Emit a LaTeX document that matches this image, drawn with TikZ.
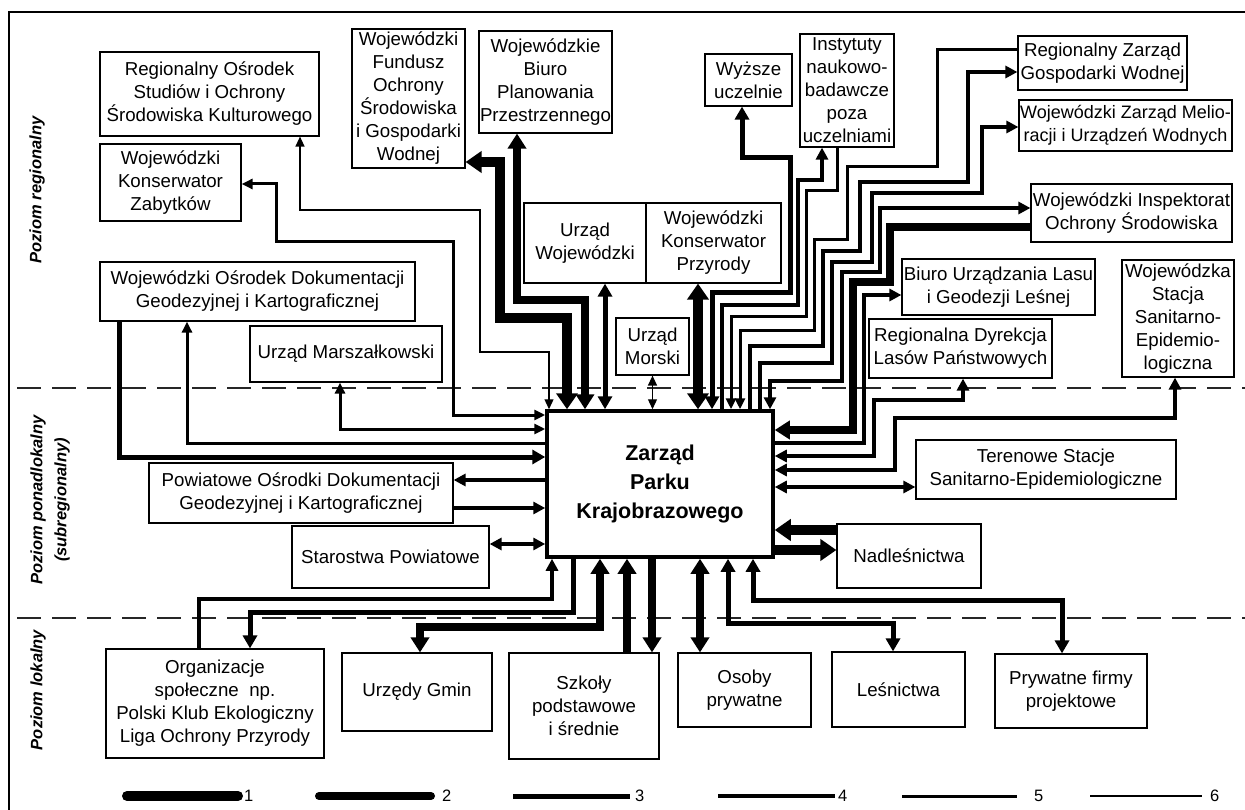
\documentclass[tikz,border=0pt]{standalone}
\usepackage{fontspec}
\setmainfont{Liberation Sans}
\usetikzlibrary{arrows.meta}
\begin{document}
\begin{tikzpicture}[x=1pt,y=-1pt,
  box/.style={draw, line width=1.2pt, inner sep=0pt, align=center, font=\fontsize{18.7}{23}\selectfont},
  lvl/.style={inner sep=0pt, align=center, rotate=90, font=\bfseries\itshape\fontsize{16.5}{24}\selectfont},
  leg/.style={inner sep=0pt, anchor=west, font=\fontsize{16.5}{20}\selectfont},
  c1/.style={line width=10pt, >={Triangle[length=16pt,width=21pt]}},
  c2/.style={line width=7.5pt, >={Triangle[length=15pt,width=18pt]}},
  c3/.style={line width=5pt, >={Triangle[length=13pt,width=14pt]}},
  c4/.style={line width=4pt, >={Triangle[length=12pt,width=12pt]}},
  c5/.style={line width=3pt, >={Triangle[length=11pt,width=10pt]}},
  c6/.style={line width=1.3pt, >={Triangle[length=10pt,width=9pt]}},
  dashline/.style={line width=1.3pt, black!85, dash pattern=on 24pt off 11pt}
]
\useasboundingbox (0,0) rectangle (1245,810);
% frame and level separators
\draw[line width=1.5pt] (9,810) -- (9,12) -- (1245,12);
\draw[dashline] (17,388) -- (1245,388);
\draw[dashline] (17,618) -- (1245,618);

% level labels
\node[lvl] (lv1) at (37,190) {Poziom regionalny};
\node[lvl] (lv2) at (50,500) {Poziom ponadlokalny\\(subregionalny)};
\node[lvl] (lv3) at (38,690) {Poziom lokalny};

% boxes
\node[box, minimum width=219, minimum height=84] (ro) at (209.5,94) {Regionalny Ośrodek\\Studiów i Ochrony\\Środowiska Kulturowego};
\node[box, minimum width=141, minimum height=77] (wkz) at (170.5,182.5) {Wojewódzki\\Konserwator\\Zabytków};
\node[box, minimum width=113, minimum height=139] (wfos) at (408.5,98.5) {Wojewódzki\\Fundusz\\Ochrony\\Środowiska\\i Gospodarki\\Wodnej};
\node[box, minimum width=133, minimum height=102] (wbpp) at (545.5,82) {Wojewódzkie\\Biuro\\Planowania\\Przestrzennego};
\node[box, minimum width=87, minimum height=52] (wyz) at (748.5,80) {Wyższe\\uczelnie};
\node[box, minimum width=94, minimum height=113] (inst) at (847,90.5) {Instytuty\\naukowo-\\badawcze\\poza\\uczelniami};
\node[box, minimum width=169, minimum height=54] (rzgw) at (1102.5,63) {Regionalny Zarząd\\Gospodarki Wodnej};
\node[box, minimum width=213, minimum height=51, font=\fontsize{18}{23}\selectfont] (wzm) at (1125.5,125.5) {Wojewódzki Zarząd Melio-\\racji i Urządzeń Wodnych};
\node[box, minimum width=201, minimum height=58] (wios) at (1131.5,213) {Wojewódzki Inspektorat\\Ochrony Środowiska};
\node[box, minimum width=122, minimum height=80] (uw) at (585,243) {Urząd\\Wojewódzki};
\node[box, minimum width=135, minimum height=80] (wkp) at (713.5,243) {Wojewódzki\\Konserwator\\Przyrody};
\node[box, minimum width=73, minimum height=57] (umor) at (652.5,346.5) {Urząd\\Morski};
\node[box, minimum width=315, minimum height=59] (wodgik) at (257.5,291.5) {Wojewódzki Ośrodek Dokumentacji\\Geodezyjnej i Kartograficznej};
\node[box, minimum width=192, minimum height=56] (umar) at (346,354) {Urząd Marszałkowski};
\node[box, minimum width=193, minimum height=56] (bul) at (998.5,287) {Biuro Urządzania Lasu\\i Geodezji Leśnej};
\node[box, minimum width=183, minimum height=59] (rdlp) at (960.5,348.5) {Regionalna Dyrekcja\\Lasów Państwowych};
\node[box, minimum width=112, minimum height=117] (wsse) at (1178,318.5) {Wojewódzka\\Stacja\\Sanitarno-\\Epidemio-\\logiczna};
\node[box, minimum width=260, minimum height=59] (tsse) at (1046,469.5) {Terenowe Stacje\\Sanitarno-Epidemiologiczne};
\node[box, minimum width=304, minimum height=60] (podgik) at (301,493) {Powiatowe Ośrodki Dokumentacji\\Geodezyjnej i Kartograficznej};
\node[box, minimum width=197, minimum height=62] (star) at (390.5,557) {Starostwa Powiatowe};
\node[box, minimum width=144, minimum height=64] (nadl) at (909,556) {Nadleśnictwa};
\node[box, minimum width=218, minimum height=109] (org) at (215,703.5) {Organizacje\\społeczne~~np.\\Polski Klub Ekologiczny\\Liga Ochrony Przyrody};
\node[box, minimum width=150, minimum height=78] (ug) at (417,692) {Urzędy Gmin};
\node[box, minimum width=150, minimum height=106] (szk) at (584,706) {Szkoły\\podstawowe\\i średnie};
\node[box, minimum width=133, minimum height=74] (osoby) at (744.5,690) {Osoby\\prywatne};
\node[box, minimum width=133, minimum height=75] (lesn) at (898.5,689.5) {Leśnictwa};
\node[box, minimum width=152, minimum height=74] (pff) at (1071,691) {Prywatne firmy\\projektowe};
\node[draw, line width=3.5pt, minimum width=226, minimum height=146, inner sep=0pt, align=center,
      font=\bfseries\fontsize{21.5}{29}\selectfont] (cpk) at (660,484) {Zarząd\\Parku\\Krajobrazowego};

% ---- connectors: upper left
\draw[c6,<->] (300,0 |- ro.south) |- (480,210) |- (549,352) -- (549,0 |- cpk.north);
\draw[c5,<->] (wkz.east |- 0,184) -| (276,242) -| (453,415) -- (cpk.west |- 0,415);
\draw[c5,<->] (340,0 |- umar.south) |- (cpk.west |- 0,429);
\draw[c5,<-] (187,0 |- wodgik.south) |- (cpk.west |- 0,443);
\draw[c3,->] (119,0 |- wodgik.south) |- (cpk.west |- 0,457);
\draw[c4,<-] (podgik.east |- 0,480) -- (cpk.west |- 0,480);
\draw[c4,->] (podgik.east |- 0,508) -- (cpk.west |- 0,508);
\draw[c4,<->] (star.east |- 0,544) -- (cpk.west |- 0,544);

% ---- connectors: top
\draw[c1,<->] (wfos.east |- 0,162) -| (500,318) -| (567,0 |- cpk.north);
\draw[c2,<->] (517,0 |- wbpp.south) |- (585,300) -- (585,0 |- cpk.north);
\draw[c3,<->] (605,0 |- uw.south) -- (605,0 |- cpk.north);
\draw[c6,<->] (umor.south) -- (umor.south |- cpk.north);
\draw[c1,<->] (698,0 |- wkp.south) -- (698,0 |- cpk.north);

% ---- connectors: bundle to the upper right
\draw[c3,<->] (712,0 |- cpk.north) |- (790,293) |- (742,158) -- (742,0 |- wyz.south);
\draw[c4,->] (722,0 |- cpk.north) |- (798,305) |- (822,180) -- (822,0 |- inst.south);
\draw[c5,<-] (731,0 |- cpk.north) |- (806,317) |- (837,191) -- (837,0 |- inst.south);
\draw[c5,<-] (740,0 |- cpk.north) |- (814,331) |- (847,240) |- (937,167) |- (rzgw.west |- 0,50);
\draw[c4,->] (750,0 |- cpk.north) |- (823,346) |- (860,251) |- (968,182) |- (rzgw.west |- 0,72);
\draw[c4,->] (760,0 |- cpk.north) |- (832,363) |- (872,262) |- (982,193) |- (wzm.west |- 0,127);
\draw[c4,<->] (770,0 |- cpk.north) |- (842,381) |- (880,272) |- (wios.west |- 0,208);
\draw[c2,->] (wios.west |- 0,227) -| (890,282) -| (853,430) -- (cpk.east |- 0,430);

% ---- connectors: right
\draw[c4,->] (cpk.east |- 0,443) -| (864,295) -- (bul.west |- 0,295);
\draw[c4,<->] (cpk.east |- 0,456) -| (874,400) -| (963,0 |- rdlp.south);
\draw[c4,<->] (cpk.east |- 0,470) -| (895,418) -| (1175,0 |- wsse.south);
\draw[c4,<->] (cpk.east |- 0,487) -- (tsse.west |- 0,487);
\draw[c1,->] (nadl.west |- 0,530) -- (cpk.east |- 0,530);
\draw[c1,->] (cpk.east |- 0,550) -- (nadl.west |- 0,550);

% ---- connectors: bottom
\draw[c4,->] (199,0 |- org.north) |- (552,599) -- (552,0 |- cpk.south);
\draw[c3,->] (573,0 |- cpk.south) |- (250,612) -- (250,0 |- org.north);
\draw[c2,<->] (600,0 |- cpk.south) |- (420,627) -- (420,0 |- ug.north);
\draw[c2,->] (627,0 |- szk.north) -- (627,0 |- cpk.south);
\draw[c2,->] (652,0 |- cpk.south) -- (652,0 |- szk.north);
\draw[c2,<->] (700,0 |- cpk.south) -- (700,0 |- osoby.north);
\draw[c3,<->] (728,0 |- cpk.south) |- (893,623) -- (893,0 |- lesn.north);
\draw[c3,<->] (753,0 |- cpk.south) |- (1062,600) -- (1062,0 |- pff.north);

% ---- legend
\draw[line width=10pt, line cap=round] (127,796) -- (238,796);
\node[leg] (l1) at (244,796) {1};
\draw[line width=8pt, line cap=round] (319,796) -- (431,796);
\node[leg] (l2) at (442,796) {2};
\draw[line width=5pt] (513,796) -- (630,796);
\node[leg] (l3) at (635,796) {3};
\draw[line width=4pt] (718,796) -- (835,796);
\node[leg] (l4) at (838,796) {4};
\draw[line width=3pt] (902,796) -- (1017,796);
\node[leg] (l5) at (1034,796) {5};
\draw[line width=1.3pt] (1090,796) -- (1202,796);
\node[leg] (l6) at (1210,796) {6};
\end{tikzpicture}
\end{document}
